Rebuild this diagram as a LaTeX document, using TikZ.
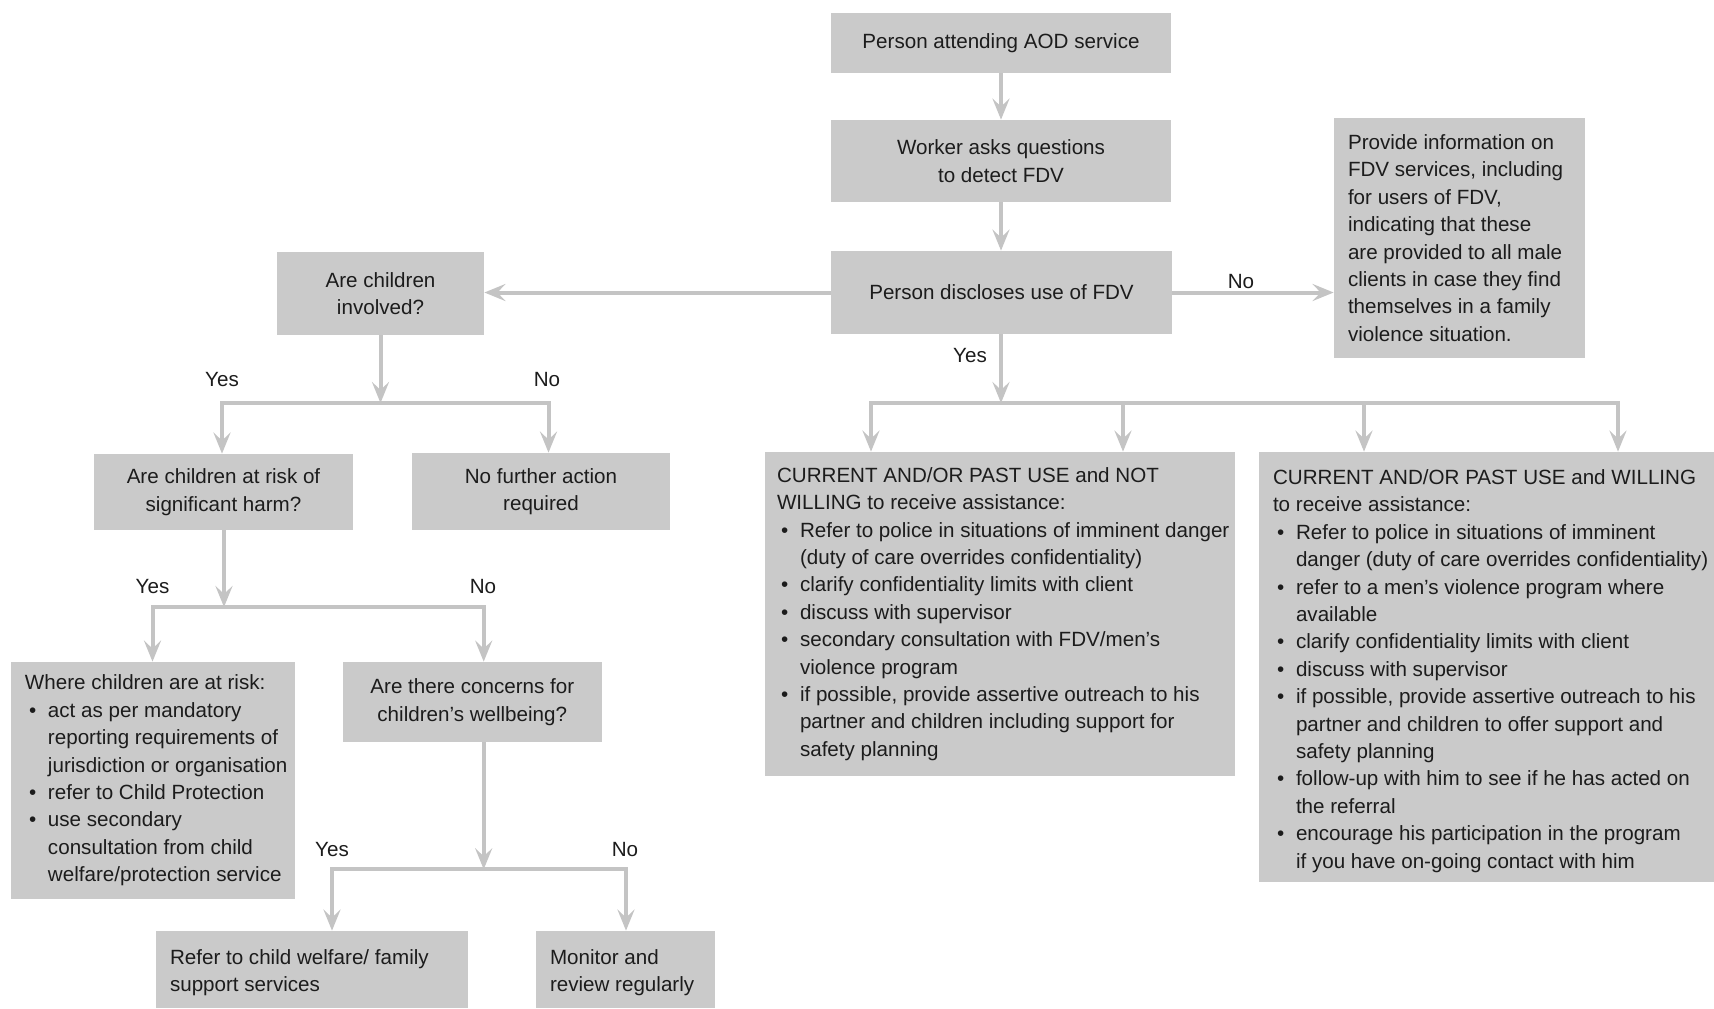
\documentclass[tikz,border=0pt]{standalone}
\usepackage{fontspec}
\setmainfont{Liberation Sans}
\usetikzlibrary{arrows.meta,calc}
\definecolor{boxgray}{RGB}{202,202,202}
\definecolor{arrgray}{RGB}{196,196,196}
\definecolor{txtc}{RGB}{28,28,28}
\newcommand{\bl}{\makebox[11.5pt][l]{\hspace{2pt}\textbullet}}
\newcommand{\ind}{\hspace*{11.5pt}}
\begin{document}
\begin{tikzpicture}[x=0.5pt,y=-0.5pt,
  box/.style={fill=boxgray, draw=none, inner sep=0pt, text=txtc, align=center,
    anchor=center, font=\fontsize{10.3}{13.7}\selectfont},
  txt/.style={inner sep=0pt, text=txtc, align=left, anchor=west,
    font=\fontsize{10.3}{13.7}\selectfont},
  lbl/.style={inner sep=0pt, text=txtc, font=\fontsize{10.3}{13.7}\selectfont},
  conn/.style={draw=arrgray, line width=2pt},
  arr/.style={conn, -{Stealth[length=10.5pt,width=8.5pt,inset=4pt]}},
  arrb/.style={conn, {Stealth[length=10.5pt,width=8.5pt,inset=4pt]}-{Stealth[length=10.5pt,width=8.5pt,inset=4pt]}},
]
\useasboundingbox (0,0) rectangle (1714,1008);
\fill[white] (0,0) rectangle (1714,1008);

% ---------- main column ----------
\node[box, minimum width=170pt, minimum height=30pt] (A) at (1001,43) {Person attending AOD service};
\node[box, minimum width=170pt, minimum height=41pt] (B) at (1001,161) {Worker asks questions\\to detect FDV};
\node[box, minimum width=170.5pt, minimum height=41.5pt] (C) at (1001.5,292.5) {Person discloses use of FDV};
\node[box, minimum width=125.5pt, minimum height=120pt] (D) at (1459.5,238) {};
\node[txt] (Dt) at ($(D.west)+(14,0)$) {Provide information on\\
FDV services, including\\
for users of FDV,\\
indicating that these\\
are provided to all male\\
clients in case they find\\
themselves in a family\\
violence situation.};

\node[box, minimum width=235pt, minimum height=162pt] (L) at (1000,614) {};
\node[txt] (Lt) at ($(L.west)+(12,0)$) {CURRENT AND/OR PAST USE and NOT\\
WILLING to receive assistance:\\
\bl Refer to police in situations of imminent danger\\
\ind (duty of care overrides confidentiality)\\
\bl clarify confidentiality limits with client\\
\bl discuss with supervisor\\
\bl secondary consultation with FDV/men’s\\
\ind violence program\\
\bl if possible, provide assertive outreach to his\\
\ind partner and children including support for\\
\ind safety planning};

\node[box, minimum width=227.5pt, minimum height=215pt] (M) at (1486.5,667) {};
\node[txt] (Mt) at ($(M.west)+(14,4)$) {CURRENT AND/OR PAST USE and WILLING\\
to receive assistance:\\
\bl Refer to police in situations of imminent\\
\ind danger (duty of care overrides confidentiality)\\
\bl refer to a men’s violence program where\\
\ind available\\
\bl clarify confidentiality limits with client\\
\bl discuss with supervisor\\
\bl if possible, provide assertive outreach to his\\
\ind partner and children to offer support and\\
\ind safety planning\\
\bl follow-up with him to see if he has acted on\\
\ind the referral\\
\bl encourage his participation in the program\\
\ind if you have on-going contact with him};

% ---------- children branch ----------
\node[box, minimum width=103.5pt, minimum height=41.5pt] (E) at (380.5,293.5) {Are children\\involved?};
\node[box, minimum width=129.5pt, minimum height=38pt] (F) at (223.5,492) {Are children at risk of\\significant harm?};
\node[box, minimum width=129pt, minimum height=38.5pt] (G) at (541,491.5) {No further action\\required};
\node[box, minimum width=141.75pt, minimum height=118.5pt] (H) at (152.75,780.5) {};
\node[txt] (Ht) at ($(H.west)+(14,0)$) {Where children are at risk:\\
\bl act as per mandatory\\
\ind reporting requirements of\\
\ind jurisdiction or organisation\\
\bl refer to Child Protection\\
\bl use secondary\\
\ind consultation from child\\
\ind welfare/protection service};
\node[box, minimum width=129.3pt, minimum height=40pt] (I) at (472.3,702) {Are there concerns for\\children’s wellbeing?};
\node[box, minimum width=156pt, minimum height=38.5pt] (J) at (312,969.5) {};
\node[txt] (Jt) at ($(J.west)+(14,3)$) {Refer to child welfare/ family\\support services};
\node[box, minimum width=89.5pt, minimum height=38.5pt] (K) at (625.5,969.5) {};
\node[txt] (Kt) at ($(K.west)+(14,3)$) {Monitor and\\review regularly};

% ---------- junction coordinates ----------
\coordinate (b1l) at (871,403);
\coordinate (b1a) at (1123,403);
\coordinate (b1b) at (1364,403);
\coordinate (b1r) at (1618,403);
\coordinate (b1m) at (1001,403);
\coordinate (b2l) at (222,403);
\coordinate (b2r) at (548.5,403);
\coordinate (b2m) at (380.5,403);
\coordinate (b3l) at (152.5,607);
\coordinate (b3r) at (483.7,607);
\coordinate (b3m) at (224,607);
\coordinate (b4l) at (332,869.3);
\coordinate (b4r) at (626,869.3);

% ---------- connectors ----------
\draw[arr] (A.south) -- (A.south |- B.north);
\draw[arr] (B.south) -- (B.south |- C.north);
\draw[arr] (C.west) -- (C.west -| E.east);
\draw[arr] (C.east) -- (C.east -| D.west);
\draw[arr] (C.south -| b1m) -- (b1m);
\draw[arrb] (b1l |- L.north) -- (b1l) -- (b1r) -- (b1r |- M.north);
\draw[arr] (b1a) -- (b1a |- L.north);
\draw[arr] (b1b) -- (b1b |- M.north);

\draw[arr] (E.south -| b2m) -- (b2m);
\draw[arrb] (b2l |- F.north) -- (b2l) -- (b2r) -- (b2r |- G.north);

\draw[arr] (F.south -| b3m) -- (b3m);
\draw[arrb] (b3l |- H.north) -- (b3l) -- (b3r) -- (b3r |- I.north);

\draw[arr] (I.south -| b3r) -- (b3r |- b4l);
\draw[arrb] (b4l |- J.north) -- (b4l) -- (b4r) -- (b4r |- K.north);

% ---------- labels ----------
\node[lbl] (lno1) at (1241,282) {No};
\node[lbl] (lyes1) at (970,356) {Yes};
\node[lbl] (lyes2) at (222,380) {Yes};
\node[lbl] (lno2) at (547,380) {No};
\node[lbl] (lyes3) at (152.5,587) {Yes};
\node[lbl] (lno3) at (483,587) {No};
\node[lbl] (lyes4) at (332,850) {Yes};
\node[lbl] (lno4) at (625,850) {No};
\end{tikzpicture}
\end{document}
